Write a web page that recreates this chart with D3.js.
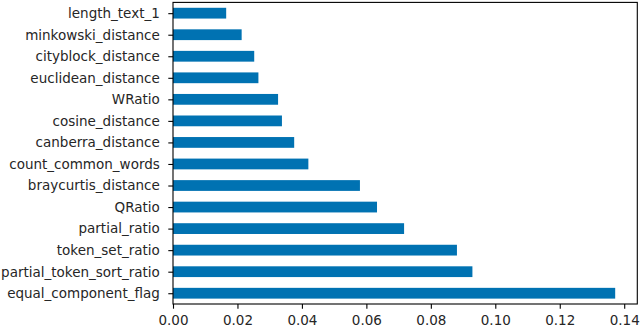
<!DOCTYPE html>
<html><head><meta charset="utf-8">
<script src="https://cdn.jsdelivr.net/npm/d3@7"></script>
<style>body{margin:0;background:#fff}svg{display:block}</style>
</head><body>
<script>
const features = ["equal_component_flag","partial_token_sort_ratio","token_set_ratio","partial_ratio","QRatio","braycurtis_distance","count_common_words","canberra_distance","cosine_distance","WRatio","euclidean_distance","cityblock_distance","minkowski_distance","length_text_1"];
const importances = [0.1372,0.0929,0.0881,0.0717,0.0633,0.0580,0.0420,0.0376,0.0338,0.0326,0.0265,0.0252,0.0213,0.0165];
const xTicks = [0,0.02,0.04,0.06,0.08,0.10,0.12,0.14];

(function(){
const W=640,H=327;
const mL=173,mR=637.3,mT=2.4,mB=304;
const svg=d3.select("body").append("svg").attr("width",W).attr("height",H);
const x=d3.scaleLinear().domain([0,d3.max(importances)*1.05]).range([mL,mR]);
const n=features.length;
const y=d3.scaleLinear().domain([-0.5,n-0.5]).range([mB,mT]);
const step=(mB-mT)/n;

svg.append("g").selectAll("rect").data(features).join("rect")
  .attr("x",x(0)).attr("y",(d,i)=>y(i)-step*0.25)
  .attr("width",(d,i)=>x(importances[i])-x(0)).attr("height",step*0.5)
  .attr("fill","#0072b2");

const font="DejaVu Sans";
const xa=d3.axisBottom(x).tickValues(xTicks).tickFormat(d3.format(".2f")).tickSize(4.7).tickPadding(6.3);
const gx=svg.append("g").attr("transform",`translate(0,${mB})`).call(xa);
gx.select(".domain").remove();
gx.selectAll("line").attr("stroke","#000").attr("stroke-width",1.1);
gx.selectAll("text").attr("font-family",font).attr("font-size",13.5).attr("fill","#262626");

const ya=d3.axisLeft(y).tickValues(d3.range(n)).tickFormat(i=>features[i]).tickSize(4.7).tickPadding(8.5);
const gy=svg.append("g").attr("transform",`translate(${mL},0)`).call(ya);
gy.select(".domain").remove();
gy.selectAll("line").attr("stroke","#000").attr("stroke-width",1.1);
gy.selectAll("text").attr("font-family",font).attr("font-size",13.5).attr("fill","#262626");

svg.append("rect").attr("x",mL).attr("y",mT).attr("width",mR-mL).attr("height",mB-mT)
  .attr("fill","none").attr("stroke","#000").attr("stroke-width",1.1);
})();
</script>
</body></html>
